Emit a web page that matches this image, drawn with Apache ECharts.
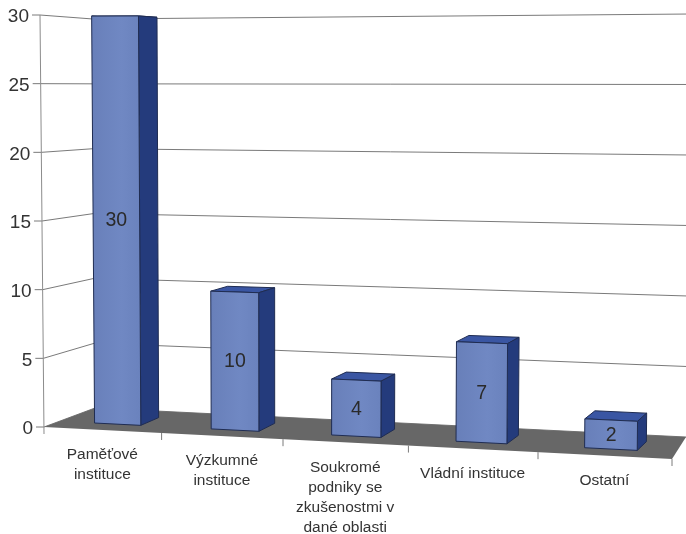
<!DOCTYPE html>
<html><head><meta charset="utf-8">
<style>html,body{margin:0;padding:0;background:#fff}#c{width:686px;height:534px}</style>
<script src="https://cdn.jsdelivr.net/npm/echarts@6/dist/echarts.min.js"></script>
</head><body><div id="c"></div>
<script>
const categories = ['Paměťové\ninstituce','Výzkumné\ninstituce','Soukromé\npodniky se\nzkušenostmi v\ndané oblasti','Vládní instituce','Ostatní'];
const values = [30,10,4,7,2];
const yTicks = [0,5,10,15,20,25,30];

const font = 'Arial, "Liberation Sans", sans-serif';
// Perspective frame of the 3D plot: [front/back][bottom/top] left and right corners
const FRAME = {
  fb:[[44,427],[672,459]], ft:[[40,15],[677,14]],
  bb:[[95,408],[686,437]], bt:[[93,19],[691,14]]
};
const PERSP = 1.085, D0 = 0.3, D1 = 0.7, BAR = 0.4;
const mix = (a,b,t)=>[a[0]+(b[0]-a[0])*t, a[1]+(b[1]-a[1])*t];
function project(u,v,d){
  const f = u/(u+PERSP*(1-u));
  const front = mix(mix(FRAME.fb[0],FRAME.fb[1],f), mix(FRAME.ft[0],FRAME.ft[1],f), v);
  const back  = mix(mix(FRAME.bb[0],FRAME.bb[1],f), mix(FRAME.bt[0],FRAME.bt[1],f), v);
  return mix(front,back,d);
}
// Bars sit one pixel right of the frame; their depth widens a little towards the right
const barFront=(u,v)=>{const p=project(u,v,D0);return [p[0]+1,p[1]];};
const barBack=(u,v)=>{const p=project(u,v,D1);return [p[0]+4*u-0.2,p[1]];};
const normU=(px,cs)=>(px-cs.x)/cs.width;
const normV=(py,cs)=>(cs.y+cs.height-py)/cs.height;
const line=(a,b,c,w)=>({type:'line',shape:{x1:a[0],y1:a[1],x2:b[0],y2:b[1]},style:{stroke:c,lineWidth:w||1}});
const poly=(pts,fill,stroke)=>({type:'polygon',shape:{points:pts},style:{fill:fill,stroke:stroke||null,lineWidth:stroke?1:0}});
const GRID='#7a7a7a', AXIS='#8c8c8c', TXT='#333333';

function renderGrid(params,api){
  const cs=params.coordSys, val=api.value(1), v=normV(api.coord([0,val])[1],cs);
  const a=project(0,v,0), b=project(0,v,1), c=project(1,v,1);
  return {type:'group',children:[
    line([a[0]-8,a[1]],a,GRID), line(a,b,GRID), line(b,c,GRID),
    {type:'text',style:{text:String(val),x:a[0]-11,y:a[1]+2,align:'right',verticalAlign:'middle',fill:TXT,font:'19px '+font}}
  ]};
}
function renderFrame(params,api){
  const a=project(0,0,0), t=project(0,1,0);
  return {type:'group',children:[
    line(t,[a[0],a[1]+7],AXIS),
    poly([project(0,0,0),project(1,0,0),project(1,0,1),project(0,0,1)],'#676767')
  ]};
}
function renderCat(params,api){
  const cs=params.coordSys, i=api.value(0), p=api.coord([i,0]), w=api.size([1,0])[0];
  const u=normU(p[0],cs), r=project(u+w/2/cs.width,0,0), c=project(u,0,0);
  return {type:'group',children:[
    line(r,[r[0],r[1]+7],GRID),
    {type:'text',style:{text:categories[i],x:c[0],y:c[1]+15,align:'center',verticalAlign:'top',
      fill:TXT,font:'15.5px '+font,lineHeight:20}}
  ]};
}
function renderBar(params,api){
  const cs=params.coordSys, i=api.value(0), val=api.value(1);
  const p=api.coord([i,val]), w=api.size([1,0])[0]*BAR;
  const uL=normU(p[0]-w/2,cs), uR=normU(p[0]+w/2,cs), v=normV(p[1],cs);
  const fbl=barFront(uL,0), fbr=barFront(uR,0), ftl=barFront(uL,v), ftr=barFront(uR,v);
  const bbr=barBack(uR,0), btr=barBack(uR,v), btl=barBack(uL,v);
  const cx=(fbl[0]+fbr[0]+ftl[0]+ftr[0])/4, cy=(fbl[1]+fbr[1]+ftl[1]+ftr[1])/4;
  const edge='#1f2c52';
  return {type:'group',children:[
    poly([ftl,ftr,btr,btl],'#3a56a3',edge),
    poly([ftr,fbr,bbr,btr],'#243b7c',edge),
    poly([ftl,ftr,fbr,fbl],{type:'linear',x:0,y:0,x2:1,y2:0,colorStops:[{offset:0,color:'#687fb9'},{offset:.6,color:'#7088c3'},{offset:1,color:'#6a82bd'}]},edge),
    {type:'text',style:{text:String(val),x:cx,y:cy+1,align:'center',verticalAlign:'middle',fill:'#2a2a2a',font:'19.5px '+font}}
  ]};
}
const chart=echarts.init(document.getElementById('c'),null,{renderer:'canvas'});
chart.setOption({
  animation:false,
  backgroundColor:'#ffffff',
  grid:{left:40,top:15,width:631,height:412,containLabel:false},
  xAxis:{type:'category',data:categories,axisLine:{show:false},axisTick:{show:false},axisLabel:{show:false},splitLine:{show:false}},
  yAxis:{type:'value',min:0,max:30,interval:5,axisLine:{show:false},axisTick:{show:false},splitLine:{show:false},axisLabel:{show:false}},
  series:[
    {type:'custom',silent:true,z:1,renderItem:renderGrid,encode:{x:0,y:1},data:yTicks.map(t=>[0,t])},
    {type:'custom',silent:true,z:2,renderItem:renderFrame,encode:{x:0,y:1},data:[[0,0]]},
    {type:'custom',silent:true,z:3,renderItem:renderCat,encode:{x:0,y:1},data:categories.map((c,i)=>[i,0])},
    {type:'custom',silent:true,z:4,renderItem:renderBar,encode:{x:0,y:1},data:values.map((v,i)=>[i,v])}
  ]
});
</script></body></html>
